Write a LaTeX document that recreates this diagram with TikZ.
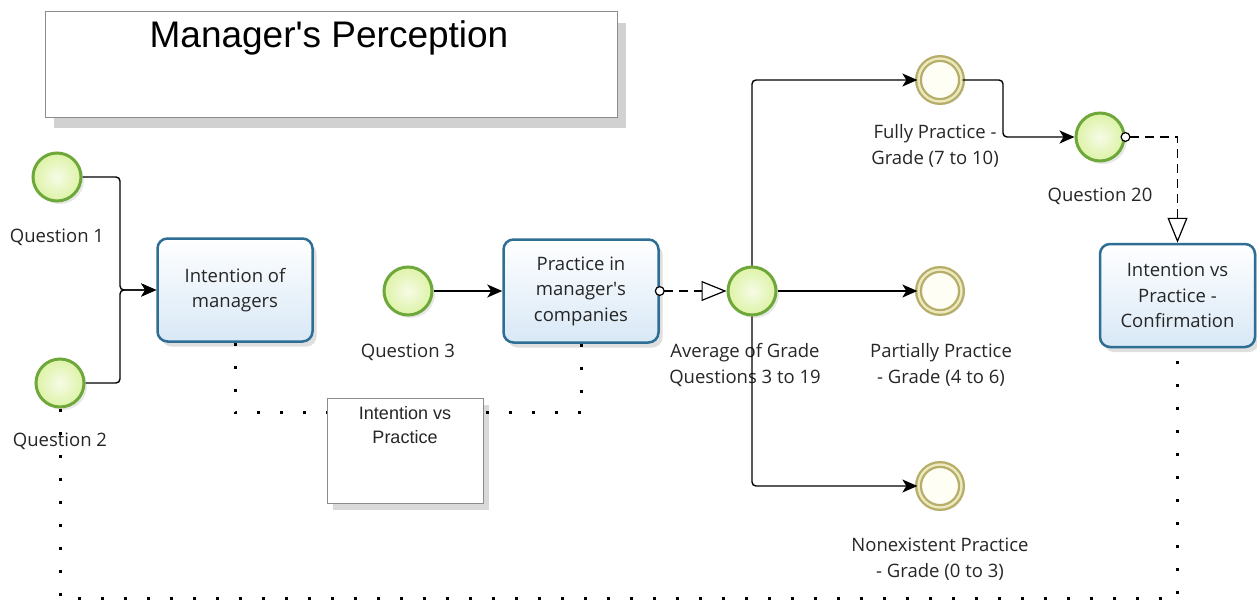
\documentclass[tikz,border=0pt]{standalone}
\usepackage{fontspec}
\setmainfont{Open Sans}
\newfontfamily\arialfont{Liberation Sans}
\usetikzlibrary{arrows.meta,shadows,calc}
\definecolor{evgreen}{HTML}{6FA83A}
\definecolor{evin}{HTML}{F6FBE6}
\definecolor{evout}{HTML}{DDF3A6}
\definecolor{endkhaki}{HTML}{B5AD68}
\definecolor{endlight}{HTML}{ECE9BE}
\definecolor{taskblue}{HTML}{2E6E94}
\definecolor{taskfill}{HTML}{D8E8F6}
\begin{document}
\begin{tikzpicture}[x=1pt,y=-1pt,
  lbl/.style={font=\fontsize{18.5}{25.5}\selectfont, align=center, text=black!85, inner sep=0pt},
  startev/.style={circle, minimum size=48pt, inner sep=0pt, line width=3pt, draw=evgreen, inner color=evin, outer color=evout,
    drop shadow={opacity=0.18, shadow xshift=3pt, shadow yshift=-3pt}},
  endev/.style={circle, minimum size=43pt, inner sep=0pt, line width=2.3pt, draw=endkhaki, double=endlight, double distance=2.4pt, fill=yellow!4,
    drop shadow={opacity=0.18, shadow xshift=3pt, shadow yshift=-3pt}},
  taskbox/.style={rounded corners=10pt, draw=taskblue, line width=2.5pt, top color=white, bottom color=taskfill,
    minimum width=155pt, minimum height=103pt, align=center, font=\fontsize{18.5}{25.5}\selectfont, text=black!85,
    drop shadow={opacity=0.25, shadow xshift=4pt, shadow yshift=-5pt}},
  annbox/.style={draw=black!45, line width=1pt, fill=white, minimum width=156pt, minimum height=105pt,
    drop shadow={opacity=0.3, shadow xshift=6pt, shadow yshift=-7pt}},
  titlebox/.style={draw=black!45, line width=1pt, fill=white, minimum width=572pt, minimum height=105pt,
    drop shadow={opacity=0.3, fill=black!60, shadow xshift=9pt, shadow yshift=-11pt}},
  seq/.style={line width=1.4pt, rounded corners=4pt, -{Stealth[length=15pt,width=13pt,inset=4pt]}},
  msg/.style={line width=1.2pt, dash pattern=on 9pt off 6pt, shorten <=-5pt,
    {Circle[open,length=10pt,width=10pt,line width=1.2pt,fill=white]}-{Triangle[open,length=25pt,width=20pt,line width=1.2pt,fill=white]}},
  assoc/.style={line width=3pt, dash pattern=on 3pt off 20pt}
]
\useasboundingbox (0,0) rectangle (1257,610);

% title
\node[titlebox] (title) at (331,64.5) {};
\node[font=\arialfont\fontsize{37}{42}\selectfont, inner sep=0pt] (titletext) at (329,38) {Manager\textquotesingle s Perception};

% annotation
\node[annbox] (ann) at (405,450.5) {};
\node[font=\arialfont\fontsize{18}{24}\selectfont, align=center, inner sep=0pt, text=black!85] (anntext) at (405,425) {Intention vs\\Practice};

% labels
\node[lbl] (lq1) at (57,237) {Question 1};
\node[lbl] (lq2) at (60,441) {Question 2};
\node[lbl] (lq3) at (408,352) {Question 3};
\node[lbl] (lavg) at (745,365) {Average of Grade\\Questions 3 to 19};
\node[lbl] (lfull) at (935,146) {Fully Practice -\\Grade (7 to 10)};
\node[lbl] (lq20) at (1100,196) {Question 20};
\node[lbl] (lpart) at (941,365) {Partially Practice\\ - Grade (4 to 6)};
\node[lbl] (lnone) at (940,559) {Nonexistent Practice\\- Grade (0 to 3)};

% events
\node[startev] (q1) at (57,177) {};
\node[startev] (q2) at (60,383) {};
\node[startev] (q3) at (408,291) {};
\node[startev] (avg) at (752,291) {};
\node[startev] (q20) at (1100,137) {};
\node[endev] (full) at (940,80) {};
\node[endev] (part) at (940,291) {};
\node[endev] (none) at (940,486) {};

% tasks
\node[taskbox] (t1) at (235,290) {Intention of\\managers};
\node[taskbox] (t2) at (581,291) {Practice in\\manager\textquotesingle s\\companies};
\node[taskbox] (t3) at (1177.5,295.5) {Intention vs\\Practice -\\Confirmation};

% sequence flows
\draw[seq] (q1.east) -- (120,177) -- (120,290) -- (t1.west);
\draw[seq] (q2.east) -- (120,383) -- (120,290) -- (t1.west);
\draw[seq] (q3) -- (t2);
\draw[seq] (avg.north) |- (full.west);
\draw[seq] (avg) -- (part);
\draw[seq] (avg.south) |- (none.west);
\draw[seq] (full.east) -- (1003,80) -- (1003,137) -- (q20.west);

% message flows
\draw[msg] (t2.east) -- (avg.west);
\draw[msg] (q20.east) -| (t3.north);

% associations
\draw[assoc] (t1.south) |- ($(ann.north west)+(0,15)$);
\draw[assoc] (t2.south) |- ($(ann.north east)+(0,15)$);
\draw[assoc] (q2.south) -- (60,598) -| (t3.south);
\end{tikzpicture}
\end{document}
